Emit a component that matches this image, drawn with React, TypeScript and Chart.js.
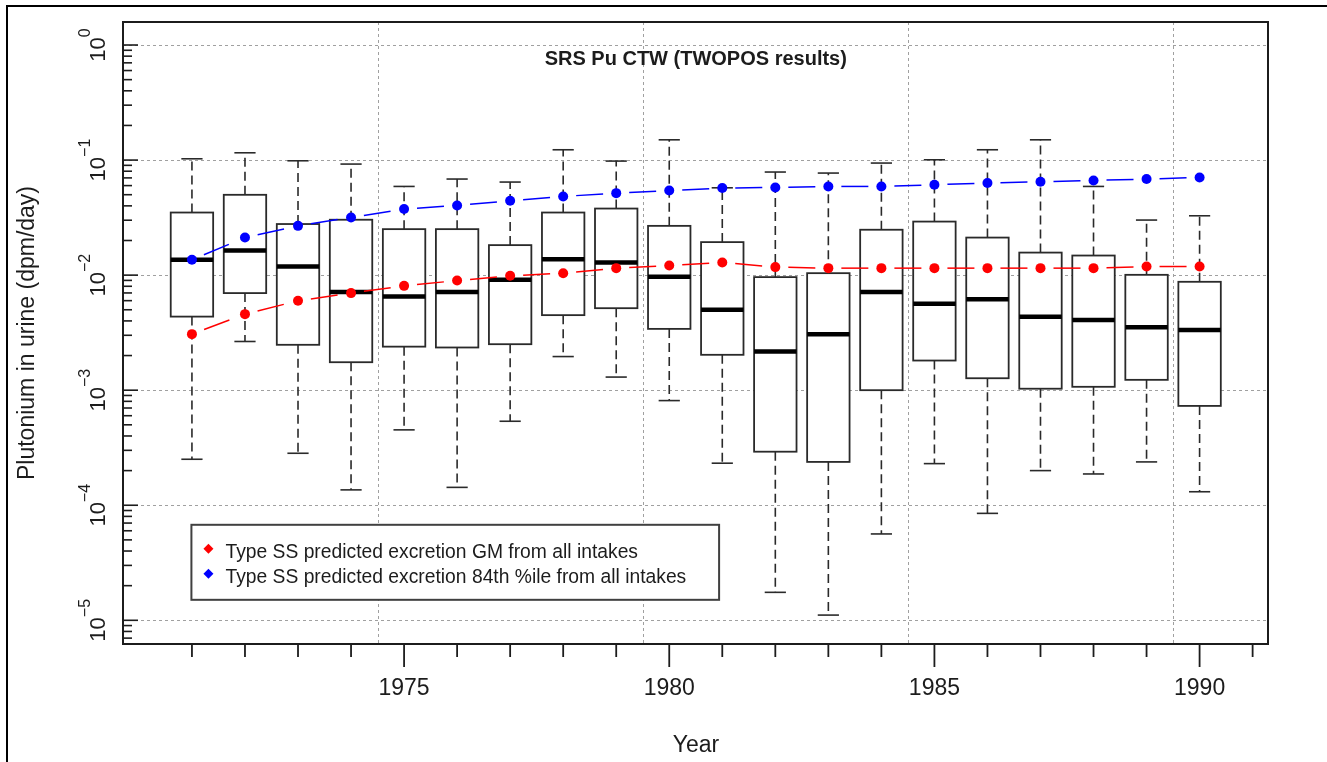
import React, { useEffect, useRef } from "react";
import { Chart, registerables } from "chart.js";

Chart.register(...registerables);

// ---------- data ----------
const years = [1971, 1972, 1973, 1974, 1975, 1976, 1977, 1978, 1979, 1980, 1981, 1982, 1983, 1984, 1985, 1986, 1987, 1988, 1989, 1990];
const whiskerHigh = [0.1026, 0.1157, 0.0986, 0.0923, 0.059, 0.0684, 0.0644, 0.1229, 0.098, 0.15, 0.0574, 0.0787, 0.0771, 0.0942, 0.1006, 0.1229, 0.15, 0.059, 0.0301, 0.0328];
const upperQuartile = [0.035, 0.0499, 0.0278, 0.0303, 0.0251, 0.0251, 0.01823, 0.035, 0.0379, 0.0268, 0.01936, 0.00961, 0.0104, 0.0248, 0.0292, 0.0212, 0.0157, 0.0148, 0.01006, 0.00875];
const medianValues = [0.01358, 0.01637, 0.01188, 0.00712, 0.00652, 0.00712, 0.0091, 0.01377, 0.01288, 0.00966, 0.00499, 0.00217, 0.00307, 0.00712, 0.00563, 0.00618, 0.00434, 0.00408, 0.00353, 0.00334];
const lowerQuartile = [0.00436, 0.00698, 0.00248, 0.00175, 0.00239, 0.00235, 0.00251, 0.00449, 0.00516, 0.00341, 0.00203, 0.000292, 0.000238, 0.001, 0.00181, 0.00127, 0.00103, 0.00107, 0.00123, 0.00073];
const whiskerLow = [0.000251, 0.00265, 0.000283, 0.000136, 0.000452, 0.000143, 0.000537, 0.00196, 0.0013, 0.000812, 0.000232, 0.0000175, 0.0000111, 0.0000563, 0.00023, 0.000085, 0.0002, 0.000187, 0.000238, 0.000131];
const gmPredicted = [0.00307, 0.00458, 0.00598, 0.00698, 0.00807, 0.00897, 0.00986, 0.0104, 0.0115, 0.01213, 0.01288, 0.01174, 0.0115, 0.0115, 0.0115, 0.0115, 0.0115, 0.0115, 0.01188, 0.01188];
const p84Predicted = [0.0136, 0.0212, 0.0268, 0.0317, 0.0375, 0.0403, 0.0443, 0.0483, 0.0516, 0.0544, 0.0571, 0.0578, 0.059, 0.059, 0.061, 0.0631, 0.0648, 0.0665, 0.0684, 0.0706];

const xTickYears = [1971, 1972, 1973, 1974, 1975, 1976, 1977, 1978, 1979, 1980, 1981, 1982, 1983, 1984, 1985, 1986, 1987, 1988, 1989, 1990, 1991];
const xLabelYears = [1975, 1980, 1985, 1990];
const xGridYears = [1974.5, 1979.5, 1984.5, 1989.5];
const yDecadeExponents = [0, -1, -2, -3, -4, -5];
const yMinorMultipliers = [2, 3, 4, 5, 6, 7, 8, 9];

const chartTitle = "SRS Pu CTW (TWOPOS results)";
const xAxisTitle = "Year";
const yAxisTitle = "Plutonium in urine (dpm/day)";
const legendLabels = [
  "Type SS predicted excretion GM from all intakes",
  "Type SS predicted excretion 84th %ile from all intakes",
];
const legendColors = ["#ff0000", "#0000ff"];

// ---------- styling ----------
const FONT = '"Liberation Sans", Arial, Helvetica, sans-serif';
const BOX_HALF = 0.4;
const CAP_HALF = 0.2;
const INK = "#1c1c1c";

function seg(ctx: CanvasRenderingContext2D, x1: number, y1: number, x2: number, y2: number) {
  ctx.beginPath();
  ctx.moveTo(x1, y1);
  ctx.lineTo(x2, y2);
  ctx.stroke();
}

const drawPlugin = {
  id: "rBoxplot",
  beforeDatasetsDraw(chart: any) {
    const { ctx, chartArea: a, scales } = chart;
    const x = scales.x;
    const y = scales.y;
    ctx.save();
    // grid
    ctx.strokeStyle = "#a0a0a0";
    ctx.lineWidth = 1;
    ctx.setLineDash([3, 3]);
    for (const e of yDecadeExponents) {
      const py = Math.round(y.getPixelForValue(Math.pow(10, e))) + 0.5;
      seg(ctx, a.left, py, a.right, py);
    }
    for (const g of xGridYears) {
      const px = Math.round(x.getPixelForValue(g)) + 0.5;
      seg(ctx, px, a.top, px, a.bottom);
    }
    ctx.setLineDash([]);

    // boxes
    years.forEach((yr, i) => {
      const cx = x.getPixelForValue(yr);
      const bl = x.getPixelForValue(yr - BOX_HALF);
      const br = x.getPixelForValue(yr + BOX_HALF);
      const cl = x.getPixelForValue(yr - CAP_HALF);
      const cr = x.getPixelForValue(yr + CAP_HALF);
      const yHi = y.getPixelForValue(whiskerHigh[i]);
      const yQ3 = y.getPixelForValue(upperQuartile[i]);
      const yMed = y.getPixelForValue(medianValues[i]);
      const yQ1 = y.getPixelForValue(lowerQuartile[i]);
      const yLo = y.getPixelForValue(whiskerLow[i]);

      ctx.strokeStyle = "#2a2a2a";
      ctx.lineWidth = 1.6;
      ctx.setLineDash([9, 5]);
      seg(ctx, cx, yQ3, cx, yHi);
      seg(ctx, cx, yQ1, cx, yLo);
      ctx.setLineDash([]);
      seg(ctx, cl, yHi, cr, yHi);
      seg(ctx, cl, yLo, cr, yLo);

      ctx.fillStyle = "#ffffff";
      ctx.fillRect(bl, yQ3, br - bl, yQ1 - yQ3);
      ctx.lineWidth = 1.8;
      ctx.strokeRect(bl, yQ3, br - bl, yQ1 - yQ3);

      ctx.strokeStyle = "#000000";
      ctx.lineWidth = 4.5;
      seg(ctx, bl, yMed, br, yMed);
    });
    ctx.restore();
  },
  afterDatasetsDraw(chart: any) {
    const { ctx, chartArea: a, scales } = chart;
    const x = scales.x;
    const y = scales.y;
    ctx.save();

    // plot frame
    ctx.strokeStyle = INK;
    ctx.lineWidth = 2;
    ctx.strokeRect(a.left, a.top, a.right - a.left, a.bottom - a.top);

    // y ticks (inside)
    ctx.lineWidth = 1.6;
    for (const e of yDecadeExponents) {
      const py = y.getPixelForValue(Math.pow(10, e));
      seg(ctx, a.left, py, a.left + 15, py);
    }
    for (let e = -6; e <= 0; e++) {
      for (const m of yMinorMultipliers) {
        const v = m * Math.pow(10, e);
        const py = y.getPixelForValue(v);
        if (py < a.top + 1 || py > a.bottom - 1) continue;
        seg(ctx, a.left, py, a.left + 9, py);
      }
    }

    // x ticks (outside)
    ctx.lineWidth = 1.8;
    for (const t of xTickYears) {
      const px = x.getPixelForValue(t);
      const len = xLabelYears.includes(t) ? 23 : 13;
      seg(ctx, px, a.bottom, px, a.bottom + len);
    }

    // x labels
    ctx.fillStyle = INK;
    ctx.font = `23px ${FONT}`;
    ctx.textAlign = "center";
    ctx.textBaseline = "alphabetic";
    for (const t of xLabelYears) {
      ctx.fillText(String(t), x.getPixelForValue(t), a.bottom + 51);
    }
    // x title
    ctx.fillText(xAxisTitle, (a.left + a.right) / 2 + 0.5, a.bottom + 108);

    // y labels (rotated, with superscripts)
    for (const e of yDecadeExponents) {
      const py = y.getPixelForValue(Math.pow(10, e));
      const exp = e === 0 ? "0" : "\u2212" + String(-e);
      ctx.font = `22px ${FONT}`;
      const w1 = ctx.measureText("10").width;
      ctx.font = `16px ${FONT}`;
      const w2 = ctx.measureText(exp).width;
      ctx.save();
      ctx.translate(a.left - 18, py);
      ctx.rotate(-Math.PI / 2);
      ctx.textAlign = "left";
      const u0 = -(w1 + w2) / 2;
      ctx.font = `22px ${FONT}`;
      ctx.fillText("10", u0, 0);
      ctx.font = `16px ${FONT}`;
      ctx.fillText(exp, u0 + w1, -15);
      ctx.restore();
    }

    // y title
    ctx.save();
    ctx.translate(34, (a.top + a.bottom) / 2 + 0);
    ctx.rotate(-Math.PI / 2);
    ctx.textAlign = "center";
    ctx.font = `23px ${FONT}`;
    ctx.fillText(yAxisTitle, 0, 0);
    ctx.restore();

    // title
    ctx.font = `bold 20px ${FONT}`;
    ctx.textAlign = "center";
    ctx.fillText(chartTitle, x.getPixelForValue(1980.5), a.top + 43);

    // legend
    const lx = x.getPixelForValue(1970.99);
    const lr = x.getPixelForValue(1980.94);
    const lt = y.getPixelForValue(Math.pow(10, -4.17));
    const lb = y.getPixelForValue(Math.pow(10, -4.822));
    ctx.fillStyle = "#ffffff";
    ctx.fillRect(lx, lt, lr - lx, lb - lt);
    ctx.strokeStyle = "#404040";
    ctx.lineWidth = 2;
    ctx.strokeRect(lx, lt, lr - lx, lb - lt);
    legendLabels.forEach((lab, i) => {
      const cy = lt + 24 + i * 25;
      const mx = lx + 17;
      ctx.fillStyle = legendColors[i];
      ctx.beginPath();
      ctx.moveTo(mx, cy - 5);
      ctx.lineTo(mx + 5, cy);
      ctx.lineTo(mx, cy + 5);
      ctx.lineTo(mx - 5, cy);
      ctx.closePath();
      ctx.fill();
      ctx.fillStyle = INK;
      ctx.font = `19.3px ${FONT}`;
      ctx.textAlign = "left";
      ctx.fillText(lab, lx + 34, cy + 9);
    });

    // outer frame
    ctx.strokeStyle = "#000000";
    ctx.lineWidth = 2;
    ctx.beginPath();
    ctx.moveTo(7, chart.height);
    ctx.lineTo(7, 6);
    ctx.lineTo(chart.width, 6);
    ctx.stroke();

    ctx.restore();
  },
};

function lineDataset(label: string, values: number[], color: string) {
  return {
    label,
    data: years.map((yr, i) => ({ x: yr, y: values[i] })),
    borderColor: color,
    backgroundColor: color,
    borderWidth: 1.5,
    pointRadius: 5,
    pointBorderWidth: 0,
    pointBackgroundColor: color,
    pointStyle: "circle",
    tension: 0,
    segment: {
      borderDash: () => [27, 26],
      borderDashOffset: (c: any) => 40 + (c.p0DataIndex % 2) * 0.001,
    },
  };
}

export default function App() {
  const ref = useRef<HTMLCanvasElement>(null);
  useEffect(() => {
    if (!ref.current) return;
    const chart = new Chart(ref.current, {
      type: "line",
      data: {
        datasets: [
          lineDataset(legendLabels[0], gmPredicted, legendColors[0]),
          lineDataset(legendLabels[1], p84Predicted, legendColors[1]),
        ] as any,
      },
      options: {
        animation: false,
        responsive: false,
        devicePixelRatio: 1,
        layout: { padding: { left: 123, top: 22, right: 59, bottom: 118 } },
        scales: {
          x: { type: "linear", min: 1969.7, max: 1991.29, display: false },
          y: { type: "logarithmic", min: Math.pow(10, -5.206), max: Math.pow(10, 0.2), display: false },
        },
        plugins: {
          legend: { display: false },
          tooltip: { enabled: false },
          title: { display: false },
        },
        events: [],
      } as any,
      plugins: [drawPlugin],
    });
    return () => chart.destroy();
  }, []);
  return (
    <div style={{ position: "fixed", left: 0, top: 0, width: 1327, height: 762, background: "#ffffff" }}>
      <canvas ref={ref} width={1327} height={762} style={{ display: "block", width: 1327, height: 762 }} />
    </div>
  );
}
